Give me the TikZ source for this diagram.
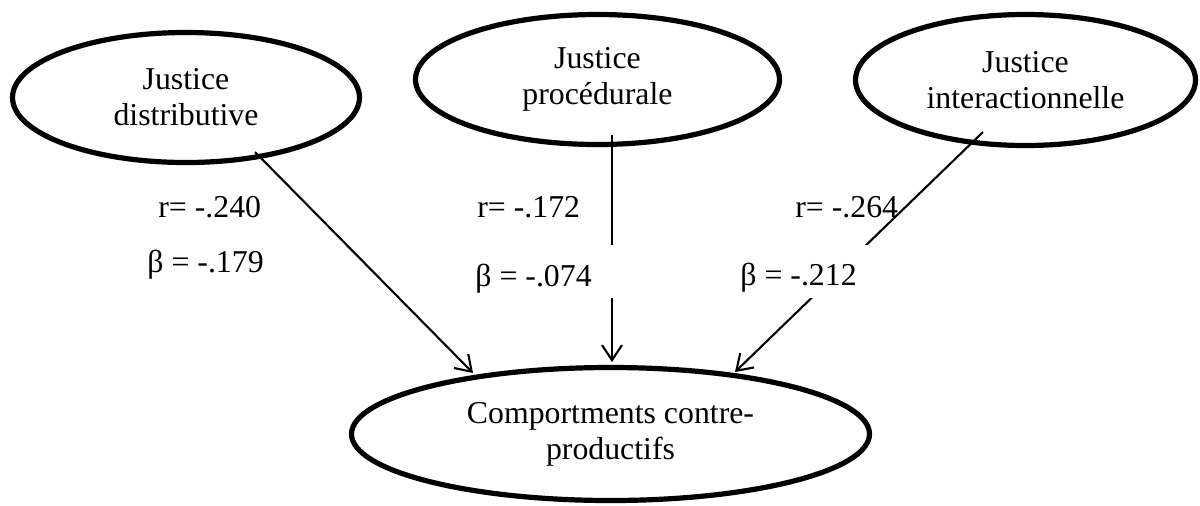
\documentclass[tikz,border=0pt]{standalone}
\usepackage{fontspec}
\setmainfont{Liberation Serif}
\usetikzlibrary{shapes.geometric,arrows.meta,calc}
\begin{document}
\begin{tikzpicture}[x=0.5pt,y=-0.5pt,
  factor/.style={ellipse, draw, line width=2.6pt, inner sep=0pt, align=center,
    font=\fontsize{15.9}{18}\selectfont},
  effect/.style={draw, line width=1.05pt, -{Straight Barb[length=7.5pt,width=10pt]}},
  coef/.style={anchor=base west, inner sep=0pt, font=\fontsize{15.9}{18}\selectfont},
  mask/.style={coef, fill=white, align=flush left}
]
\useasboundingbox (0,0) rectangle (1200,505);

% constructs
\node[factor, minimum width=173.5pt, minimum height=65pt] (jd) at (186,97.5) {Justice\\distributive};
\node[factor, minimum width=182pt, minimum height=65pt] (jp) at (597.5,79.5) {Justice\\procédurale};
\node[factor, minimum width=170pt, minimum height=65.5pt] (ji) at (1025.5,80) {Justice\\interactionnelle};
\node[factor, minimum width=259pt, minimum height=66.5pt] (cp) at (610.5,434) {Comportments contre-\\productifs};

% where the paths leave and reach the ellipses
\coordinate (jd-out) at ($(jd.center)+(69,54.5)$);
\coordinate (jp-out) at ($(jp.center)+(14.5,55.5)$);
\coordinate (ji-out) at ($(ji.center)+(-42.5,52)$);
\coordinate (cp-in1) at ($(cp.center)+(-137.5,-61)$);
\coordinate (cp-in2) at ($(cp.center)+(1.5,-72)$);
\coordinate (cp-in3) at ($(cp.center)+(124.5,-62)$);

% paths
\draw[effect] (jd-out) -- (cp-in1);
\draw[effect] (jp-out) -- (cp-in2);
\draw[effect] (ji-out) -- (cp-in3);

% coefficients
\node[coef] (r1) at (158,217) {r= -.240};
\node[coef] (b1) at (147,272) {β = -.179};
\node[coef] (r2) at (477,217) {r= -.172};
\node[mask, text width=70.5pt, text height=20.5pt, text depth=6pt] (b2) at (475,286) {β = -.074};
\node[coef] (r3) at (795,217) {r= -.264};
\node[mask, text width=65pt, text height=20pt, text depth=6.5pt] (b3) at (740,285) {β = -.212};
\end{tikzpicture}
\end{document}
